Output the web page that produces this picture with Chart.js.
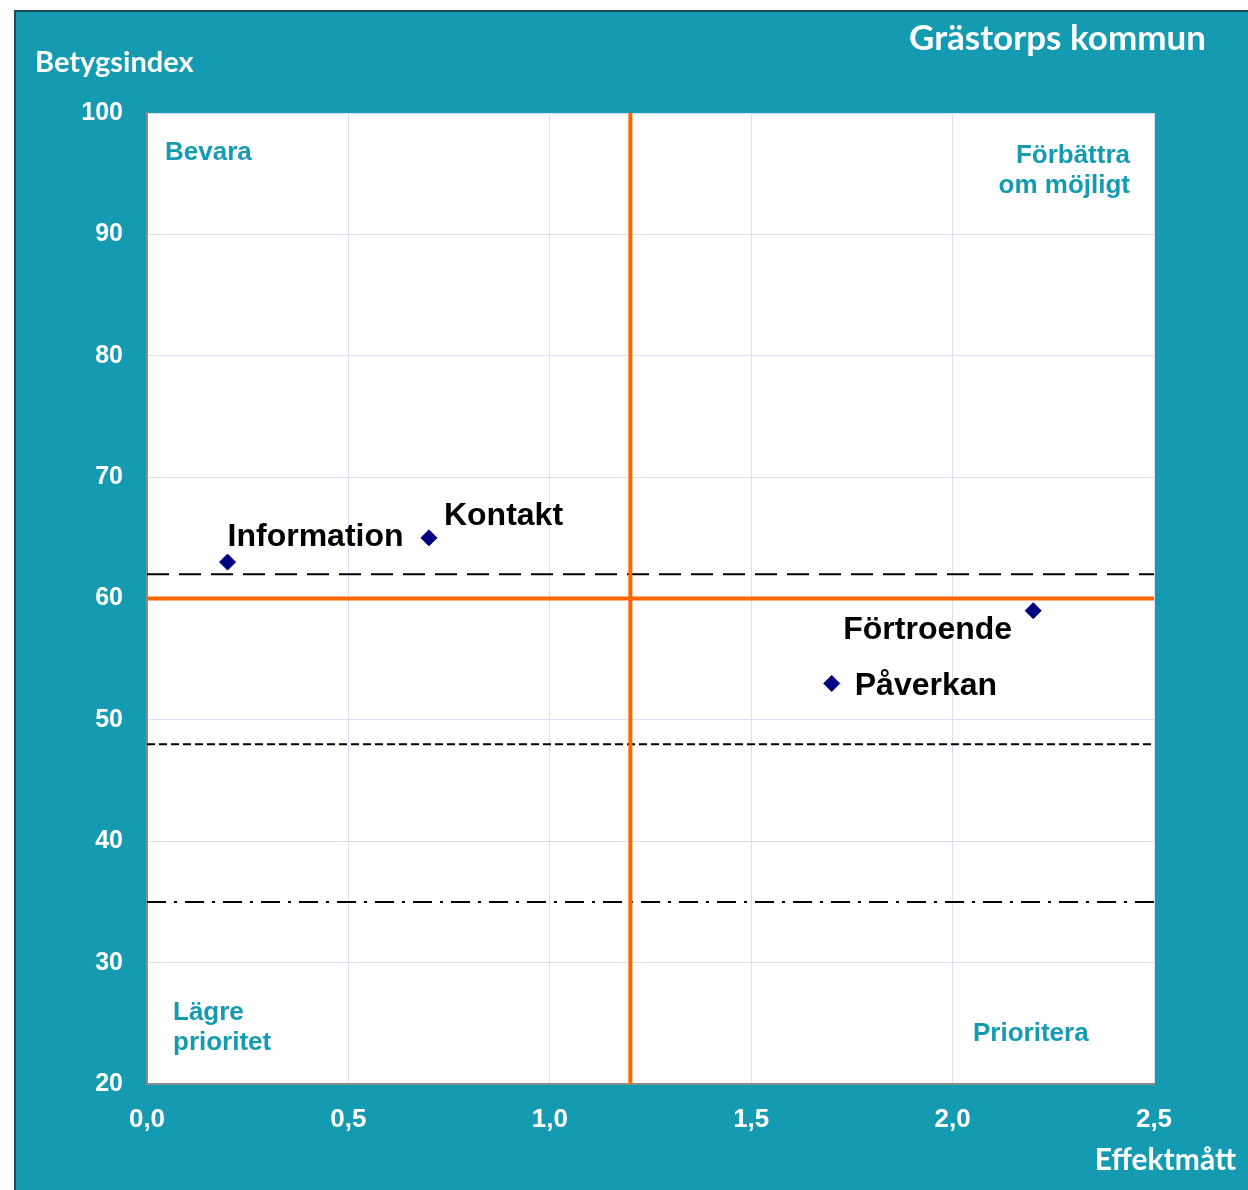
<!DOCTYPE html>
<html>
<head>
<meta charset="utf-8">
<script src="https://cdn.jsdelivr.net/npm/chart.js@4"></script>
<style>
  html, body { margin: 0; padding: 0; background: #fff; }
  #wrap { width: 1248px; height: 1190px; position: relative; }
</style>
</head>
<body>
<div id="wrap"><canvas id="matrixChart"></canvas></div>
<script>
// Data
const areas = ['Information', 'Kontakt', 'Förtroende', 'Påverkan'];
const effekt = [0.2, 0.7, 2.2, 1.7];
const betyg = [63, 65, 59, 53];

const xTicks = [0, 0.5, 1.0, 1.5, 2.0, 2.5];
const yTicks = [20, 30, 40, 50, 60, 70, 80, 90, 100];

// Reference lines
const orangeX = 1.2;
const orangeY = 60;
const longDashY = 62;
const shortDashY = 48;
const dashDotY = 35;

const teal = '#149bb1';
const orange = '#ff6600';

// label placement next to each point (px offsets, align)
const labelPos = {
  'Information': { dx: 0, dy: -25, align: 'left' },
  'Kontakt': { dx: 15, dy: -22, align: 'left' },
  'Förtroende': { dx: -21, dy: 20, align: 'right' },
  'Påverkan': { dx: 23, dy: 3, align: 'left' }
};

const xMin = xTicks[0], xMax = xTicks[xTicks.length - 1];
const hLine = (y) => [{ x: xMin, y: y }, { x: xMax, y: y }];

// Background frame + white plot area
const framePlugin = {
  id: 'frame',
  beforeDraw(chart) {
    const { ctx, chartArea: a } = chart;
    ctx.save();
    ctx.fillStyle = teal;
    ctx.fillRect(15, 10, chart.width - 15, chart.height - 10);
    ctx.strokeStyle = '#1d4e58';
    ctx.lineWidth = 2;
    ctx.beginPath();
    ctx.moveTo(15, chart.height);
    ctx.lineTo(15, 11);
    ctx.lineTo(chart.width, 11);
    ctx.stroke();
    ctx.fillStyle = '#fff';
    ctx.fillRect(a.left, a.top, a.right - a.left, a.bottom - a.top);
    ctx.restore();
  }
};

// Texts: titles, quadrant names, point labels
const textPlugin = {
  id: 'texts',
  afterDraw(chart) {
    const { ctx, chartArea: a } = chart;
    ctx.save();
    ctx.textBaseline = 'middle';

    ctx.fillStyle = '#fff';
    ctx.font = 'bold 29px Lato, "Open Sans", sans-serif';
    ctx.textAlign = 'left';
    ctx.fillText('Betygsindex', 35, 63);
    ctx.textAlign = 'right';
    ctx.font = 'bold 30px Lato, "Open Sans", sans-serif';
    ctx.fillText('Effektmått', 1236, 1160);
    ctx.font = 'bold 35px Lato, "Open Sans", sans-serif';
    ctx.fillText('Grästorps kommun', 1206, 39);

    ctx.fillStyle = teal;
    ctx.font = 'bold 26px "Liberation Sans", Arial, sans-serif';
    ctx.textAlign = 'left';
    ctx.fillText('Bevara', a.left + 18, a.top + 40);
    ctx.fillText('Lägre', a.left + 26, a.bottom - 71);
    ctx.fillText('prioritet', a.left + 26, a.bottom - 41);
    ctx.fillText('Prioritera', a.right - 181, a.bottom - 50);
    ctx.textAlign = 'right';
    ctx.fillText('Förbättra', a.right - 24, a.top + 43);
    ctx.fillText('om möjligt', a.right - 24, a.top + 73);

    // point labels
    const meta = chart.getDatasetMeta(0);
    ctx.fillStyle = '#000';
    ctx.font = 'bold 32px "Liberation Sans", Arial, sans-serif';
    meta.data.forEach((pt, i) => {
      const p = labelPos[areas[i]];
      ctx.textAlign = p.align;
      ctx.fillText(areas[i], pt.x + p.dx, pt.y + p.dy);
    });
    ctx.restore();
  }
};

const ctx = document.getElementById('matrixChart').getContext('2d');
new Chart(ctx, {
  type: 'scatter',
  data: {
    datasets: [
      {
        label: 'Områden',
        data: effekt.map((x, i) => ({ x: x, y: betyg[i] })),
        pointStyle: 'rectRot',
        pointRadius: 8,
        backgroundColor: '#000080',
        borderColor: '#000080',
        order: 0
      },
      {
        type: 'line',
        data: hLine(longDashY),
        borderColor: '#000',
        borderWidth: 2,
        borderDash: [22, 10],
        pointRadius: 0,
        order: 2
      },
      {
        type: 'line',
        data: hLine(shortDashY),
        borderColor: '#000',
        borderWidth: 2,
        borderDash: [8, 4],
        pointRadius: 0,
        order: 2
      },
      {
        type: 'line',
        data: hLine(dashDotY),
        borderColor: '#000',
        borderWidth: 2,
        borderDash: [19, 8, 3, 8],
        pointRadius: 0,
        order: 2
      },
      {
        type: 'line',
        data: hLine(orangeY),
        borderColor: orange,
        borderWidth: 4,
        pointRadius: 0,
        order: 1
      },
      {
        type: 'line',
        data: [{ x: orangeX, y: yTicks[0] }, { x: orangeX, y: yTicks[yTicks.length - 1] }],
        borderColor: orange,
        borderWidth: 4,
        pointRadius: 0,
        order: 1
      }
    ]
  },
  options: {
    responsive: true,
    maintainAspectRatio: false,
    animation: false,
    layout: { padding: { top: 113, right: 94, left: 0, bottom: 0 } },
    plugins: {
      legend: { display: false },
      tooltip: { enabled: false }
    },
    scales: {
      x: {
        type: 'linear',
        min: xMin,
        max: xMax,
        afterBuildTicks: (s) => { s.ticks = xTicks.map(v => ({ value: v })); },
        afterFit: (s) => { s.height = 106; },
        ticks: {
          color: '#fff',
          padding: 20,
          font: { family: '"Liberation Sans", Arial, sans-serif', size: 26, weight: 'bold' },
          callback: (v) => v.toFixed(1).replace('.', ',')
        },
        grid: { color: '#dcdcf8', lineWidth: 1, drawTicks: false },
        border: { color: '#8c8c8c', width: 2 }
      },
      y: {
        type: 'linear',
        min: yTicks[0],
        max: yTicks[yTicks.length - 1],
        afterBuildTicks: (s) => { s.ticks = yTicks.map(v => ({ value: v })); },
        afterFit: (s) => { s.width = 147; },
        ticks: {
          color: '#fff',
          padding: 24,
          font: { family: '"Liberation Sans", Arial, sans-serif', size: 25, weight: 'bold' }
        },
        grid: { color: '#dcdcf8', lineWidth: 1, drawTicks: false },
        border: { color: '#8c8c8c', width: 2 }
      }
    }
  },
  plugins: [framePlugin, textPlugin]
});
</script>
</body>
</html>
